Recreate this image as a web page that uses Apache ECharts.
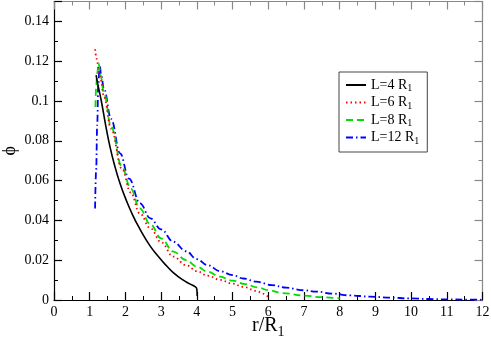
<!DOCTYPE html>
<html>
<head>
<meta charset="utf-8">
<script src="https://cdn.jsdelivr.net/npm/echarts@6/dist/echarts.min.js"></script>
<style>html,body{margin:0;padding:0;background:#fff}#c{width:491px;height:344px}</style>
</head>
<body>
<div id="c"></div>
<script>
const seriesNames = ['L=4 R1', 'L=6 R1', 'L=8 R1', 'L=12 R1'];
const xTicks = [0,1,2,3,4,5,6,7,8,9,10,11,12];
const yTicks = [0,0.02,0.04,0.06,0.08,0.1,0.12,0.14];

const dataL4 = [[1.18,0.113],[1.22,0.109],[1.32,0.1005],[1.45,0.0875],[1.57,0.0768],[1.7,0.0675],[1.85,0.0585],[2.0,0.0512],[2.2,0.0428],[2.41,0.0355],[2.69,0.0272],[2.97,0.0208],[3.15,0.0172],[3.34,0.0138],[3.6,0.0102],[3.8,0.0081],[3.95,0.0067],[4.0,0.0055],[4.01,0.002]];
const dataL6 = [[1.15,0.126],[1.2,0.121],[1.25,0.116],[1.3,0.111],[1.4,0.102],[1.6,0.086],[1.9,0.066],[2.15,0.054],[2.4,0.0436],[2.7,0.036],[3.0,0.029],[3.34,0.0218],[3.7,0.0175],[4.0,0.0145],[4.3,0.0122],[4.65,0.0101],[5.0,0.0082],[5.3,0.0066],[5.67,0.0046],[5.85,0.0032],[6.0,0.0015]];
const dataL8 = [[1.16,0.097],[1.18,0.107],[1.21,0.114],[1.25,0.119],[1.3,0.113],[1.4,0.104],[1.6,0.087],[1.9,0.067],[2.15,0.056],[2.4,0.046],[2.7,0.038],[3.0,0.031],[3.34,0.0243],[3.7,0.0200],[4.0,0.0168],[4.3,0.0142],[4.65,0.0117],[5.0,0.0097],[5.35,0.0080],[5.7,0.0063],[6.0,0.0050],[6.4,0.0035],[7.0,0.0022],[7.5,0.0014],[8.0,0.0008]];
const dataL12 = [[1.15,0.046],[1.18,0.065],[1.21,0.088],[1.24,0.108],[1.28,0.118],[1.32,0.113],[1.4,0.106],[1.6,0.091],[1.85,0.0737],[2.1,0.061],[2.41,0.0486],[2.7,0.041],[3.0,0.0355],[3.34,0.0293],[3.7,0.0245],[4.0,0.0205],[4.3,0.0175],[4.65,0.0145],[5.0,0.0125],[5.3,0.0108],[5.67,0.0092],[6.1,0.0075],[6.5,0.0062],[7.0,0.0049],[7.35,0.0042],[7.8,0.0032],[8.29,0.0023],[8.85,0.0017],[9.4,0.0012],[9.97,0.0008],[10.5,0.0005],[11.0,0.0003],[11.5,0.0002],[12.0,0.0001]];

const colors = ['#000000', '#ff0000', '#00dd00', '#0000ff'];
const dashes = ['solid', [1.5,3], [7,4], [7,3,1.5,3]];
const datas = [dataL4, dataL6, dataL8, dataL12];

const serif = 'Liberation Serif';
const chart = echarts.init(document.getElementById('c'));

function baseX(show, pos) {
  return {
    type: 'value', min: 0, max: 12, interval: 1, position: pos,
    axisLine: {show: true, onZero: false, lineStyle: {color: show ? '#000' : '#888', width: 1.2}},
    axisTick: {show: true, inside: true, length: 8, lineStyle: {color: show ? '#000' : '#888', width: 1.2}},
    minorTick: {show: true, splitNumber: 2, length: 4, lineStyle: {color: show ? '#000' : '#888', width: 1}},
    axisLabel: {show: show, margin: 5, color: '#000', fontFamily: serif, fontSize: 14,
      formatter: v => xTicks.includes(v) ? String(v) : ''},
    splitLine: {show: false}, minorSplitLine: {show: false}
  };
}
function baseY(show, pos) {
  return {
    type: 'value', min: 0, max: 0.15, interval: 0.02, position: pos,
    axisLine: {show: true, onZero: false, lineStyle: {color: show ? '#000' : '#888', width: 1.2}},
    axisTick: {show: true, inside: true, length: 8, lineStyle: {color: show ? '#000' : '#888', width: 1.2}},
    minorTick: {show: true, splitNumber: 2, length: 4, lineStyle: {color: show ? '#000' : '#888', width: 1}},
    axisLabel: {show: show, margin: 5, color: '#000', fontFamily: serif, fontSize: 14, showMaxLabel: false,
      formatter: v => { const t = yTicks.find(y => Math.abs(y - v) < 1e-9); return t === undefined ? '' : String(t); }},
    splitLine: {show: false}, minorSplitLine: {show: false}
  };
}

const xMain = baseX(true, 'bottom');
xMain.name = '{a|r/R}{s|1}';
xMain.nameLocation = 'middle';
xMain.nameGap = 13;
xMain.nameMoveOverlap = false;
xMain.nameTextStyle = {color: '#000', fontFamily: serif, fontSize: 20,
  rich: {a: {fontFamily: serif, fontSize: 20, color: '#000'}, s: {fontFamily: serif, fontSize: 14, color: '#000', padding: [12,0,0,0]}}};

const yMain = baseY(true, 'left');
yMain.name = 'ϕ';
yMain.nameLocation = 'middle';
yMain.nameGap = 35;
yMain.nameMoveOverlap = false;
yMain.nameTextStyle = {color: '#000', fontFamily: serif, fontSize: 18};

const option = {
  animation: false,
  backgroundColor: '#fff',
  grid: {left: 54, right: 8.5, top: 1.5, bottom: 44, containLabel: false, outerBoundsMode: 'none'},
  xAxis: [xMain, baseX(false, 'top')],
  yAxis: [yMain, baseY(false, 'right')],
  legend: {
    orient: 'vertical', left: 339, top: 72,
    padding: [6, 8, 6, 6], itemGap: 2, itemWidth: 20, itemHeight: 14,
    borderColor: '#444', borderWidth: 1, backgroundColor: '#fff',
    itemStyle: {opacity: 0},
    data: seriesNames,
    formatter: n => '{t|' + n.slice(0, -1) + '}{s|' + n.slice(-1) + '}',
    textStyle: {color: '#000', fontFamily: serif, fontSize: 14,
      rich: {t: {fontFamily: serif, fontSize: 14, color: '#000'}, s: {fontFamily: serif, fontSize: 10, color: '#000', padding: [7,0,0,0]}}}
  },
  series: seriesNames.map((n, i) => ({
    name: n, type: 'line', xAxisIndex: 0, yAxisIndex: 0,
    data: datas[i], showSymbol: false, symbol: 'none',
    smooth: i === 0 ? 0.5 : 0.4, smoothMonotone: i === 0 ? null : 'x',
    color: colors[i],
    lineStyle: {color: colors[i], width: i === 0 ? 1.6 : 1.8, type: dashes[i]},
    z: 4 - i
  }))
};
chart.setOption(option);
</script>
</body>
</html>
